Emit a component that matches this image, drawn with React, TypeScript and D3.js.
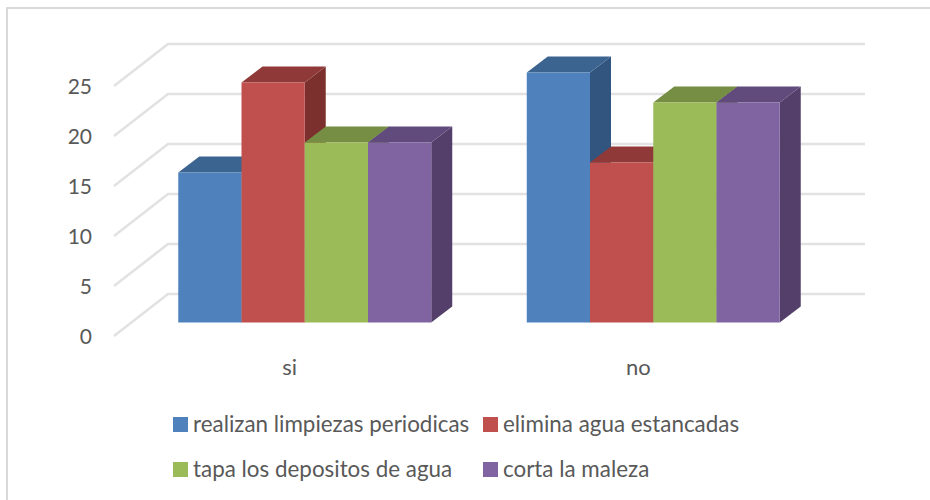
import React from "react";
import * as d3 from "d3";

const categories = ["si", "no"];
const seriesNames = [
  "realizan limpiezas periodicas",
  "elimina agua estancadas",
  "tapa los depositos de agua",
  "corta la maleza",
];
const limpiezas = [15, 25];
const agua = [24, 16];
const depositos = [18, 22];
const maleza = [18, 22];
const seriesValues = [limpiezas, agua, depositos, maleza];
const yTicks = [0, 5, 10, 15, 20, 25];
const frontColors = ["#4f81bd", "#c0504d", "#9bbb59", "#8064a2"];
const topColors = ["#3c6491", "#8f3a38", "#758e43", "#614b7c"];
const sideColors = ["#31557f", "#7c302e", "#657a39", "#543f6a"];

const FONT = "Lato, 'Open Sans', sans-serif";
const INK = "#595959";
const GRID = "#e2e2e2";

// Oblique projection: the floor runs 54px right and 42px up from front to back.
const WALL = { dx: 54, dy: 42 };
const BAR_OFFSET = { dx: 16.5, dy: 13.5 };
const BAR_DEPTH = { dx: 21, dy: 16 };

const y = d3.scaleLinear().domain([0, 25]).range([336, 86]);
const xGroup = d3.scaleBand<string>().domain(categories).range([114, 811]);
const xBar = d3
  .scaleBand<string>()
  .domain(seriesNames)
  .range([0, xGroup.bandwidth()])
  .paddingInner(0)
  .paddingOuter(0.755);

const poly = (pts: [number, number][]) => pts.map((p) => p.join(",")).join(" ");

export default function App() {
  const bars = categories.flatMap((cat, ci) =>
    seriesNames.map((name, si) => {
      const x0 = (xGroup(cat) as number) + (xBar(name) as number) + BAR_OFFSET.dx;
      const x1 = x0 + xBar.bandwidth();
      const yTop = y(seriesValues[si][ci]) - BAR_OFFSET.dy;
      const yBase = y(0) - BAR_OFFSET.dy;
      const { dx, dy } = BAR_DEPTH;
      return (
        <g key={`${cat}-${name}`}>
          <polygon
            fill={sideColors[si]}
            points={poly([[x1, yTop], [x1 + dx, yTop - dy], [x1 + dx, yBase - dy], [x1, yBase]])}
          />
          <polygon
            fill={topColors[si]}
            points={poly([[x0, yTop], [x0 + dx, yTop - dy], [x1 + dx, yTop - dy], [x1, yTop]])}
          />
          <rect x={x0} y={yTop} width={x1 - x0} height={yBase - yTop} fill={frontColors[si]} />
        </g>
      );
    })
  );

  const legendRows = [
    { y: 424, items: [0, 1] },
    { y: 469, items: [2, 3] },
  ];
  const legendX = [173, 483];

  return (
    <svg
      width={930}
      height={500}
      style={{ position: "absolute", left: 0, top: 0, background: "#fff" }}
      fontFamily={FONT}
    >
      <path d="M7,500 V8 H930" fill="none" stroke="#d9d9d9" strokeWidth={2} />

      {yTicks.map((t) => {
        const yf = y(t);
        const yb = yf - WALL.dy;
        return (
          <g key={t}>
            <path
              d={`M114,${yf} L${114 + WALL.dx},${yb} H865`}
              fill="none"
              stroke={GRID}
              strokeWidth={2.6}
            />
            <text x={92} y={yf} dy="0.36em" textAnchor="end" fontSize={21} fill={INK}>
              {t}
            </text>
          </g>
        );
      })}

      {bars}

      {categories.map((cat) => (
        <text
          key={cat}
          x={(xGroup(cat) as number) + xGroup.bandwidth() / 2 + 1.5}
          y={367}
          dy="0.36em"
          textAnchor="middle"
          fontSize={22}
          fill={INK}
        >
          {cat}
        </text>
      ))}

      {legendRows.map((row) =>
        row.items.map((si, col) => (
          <g key={si}>
            <rect x={legendX[col]} y={row.y - 7} width={15} height={15} fill={frontColors[si]} />
            <text
              x={legendX[col] + 20}
              y={row.y}
              dy="0.36em"
              fontSize={22.4}
              fill={INK}
            >
              {seriesNames[si]}
            </text>
          </g>
        ))
      )}
    </svg>
  );
}
